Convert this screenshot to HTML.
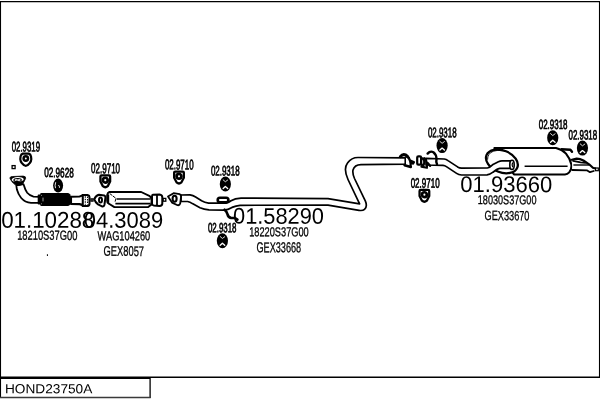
<!DOCTYPE html>
<html><head><meta charset="utf-8"><title>HOND23750A</title>
<style>
html,body{margin:0;padding:0;background:#fff;}
body{width:600px;height:400px;overflow:hidden;position:relative;font-family:"Liberation Sans", sans-serif;}
svg{position:absolute;left:0;top:0;display:block;will-change:transform;filter:grayscale(1);}
svg text{font-family:"Liberation Sans", sans-serif;fill:#000;}
</style></head><body>
<svg width="600" height="400" viewBox="0 0 600 400">
<rect x="0" y="0" width="600" height="400" fill="#fff"/>
<!-- frame -->
<path d="M0,1.6 L600,1.6" stroke="#000" fill="none" stroke-width="1.3"/>
<path d="M0,377.15 L600,377.15" stroke="#000" fill="none" stroke-width="1.5"/>
<path d="M0.5,1 L0.5,398 M599.5,1 L599.5,378" stroke="#000" fill="none" stroke-width="1.1"/>
<path d="M0,378.3 L150.1,378.3 L150.1,398" stroke="#000" fill="none" stroke-width="1.3"/>
<path d="M0,397.5 L150.7,397.5" stroke="#3a3a3a" fill="none" stroke-width="1.7"/>
<path d="M16.3,185.4 L16.9,189.6 Q18.2,194.4 21.2,198 Q25,202.4 31,202.8 L40,202.8 L40,196.9 L33.5,196.7 Q29.5,195.6 27.2,192.8 Q25.2,190 24.3,186.5 L23.5,184.2 Z" fill="#fff" stroke="#000" stroke-width="1.8" stroke-linejoin="round"/>
<g transform="translate(0.2,0.8)">
<path d="M9.6,177.2 Q10,175.5 12.5,175.7 L23,175.3 Q25.9,175.6 25.4,177.6 Q24,181.5 21.4,184 Q18,185.6 14.8,183.8 Q11,181 9.6,177.2 Z" fill="#000" stroke="#000" stroke-width="0.8" stroke-linejoin="round"/>
<ellipse cx="0" cy="0" rx="6" ry="2.5" transform="translate(17.5,178.7) rotate(-2)" fill="#fff"/>
<ellipse cx="0" cy="0" rx="3.7" ry="1.5" transform="translate(17.4,179.2) rotate(-2)" fill="#fff" stroke="#000" stroke-width="1.1"/>
<path d="M16.2,179.6 L18.2,178.9" stroke="#000" stroke-width="0.8" fill="none"/>
</g>
<path d="M41.4,192.9 L68,192.9 Q69.4,193 70,194.2 L70.8,196 L70.8,203 L70,204.8 Q69.4,205.9 68,206 L41.4,206 Q40.2,206 40.2,204.8 L40.2,194.1 Q40.2,192.9 41.4,192.9 Z" fill="#000"/>
<rect x="37.7" y="194.6" width="3.5" height="9.9" rx="0.8" fill="#000"/>
<path d="M43,197.6 L43,201.4 M41.2,195.4 L42,195.4 M41.2,203.8 L42,203.8" stroke="#e8e8e8" stroke-width="0.7" fill="none"/>
<path d="M71,196.7 L79.5,196.5 Q81.5,196.1 83,195 L83,205.5 Q81.5,204.5 79.5,204.1 L71,203.9 Z" fill="#fff" stroke="#000" stroke-width="2.1" stroke-linejoin="round"/>
<path d="M82.8,194.9 L87.6,194.9 Q89.5,195.3 89.5,197.1 L89.5,203.8 Q89.5,205.8 87.6,206 L82.8,206 Z" fill="#fff" stroke="#000" stroke-width="2"/>
<path d="M85.3,196.2 L85.3,204.8 M87.6,196.6 L87.6,204.4" stroke="#000" stroke-width="1.1" stroke-dasharray="1.5 1" fill="none"/>
<rect x="91" y="198.9" width="2" height="2.2" fill="#fff" stroke="#000" stroke-width="1.3"/>
<path d="M94.2,199.2 Q96,195.4 99,194.8 L104.2,195.4 Q105.6,196 105.4,198 L104.4,205 Q103.8,206.8 102,206.4 L98,204.4 Q95.4,202.6 94.2,199.2 Z" fill="#fff" stroke="#000" stroke-width="2" stroke-linejoin="round"/>
<ellipse cx="100.5" cy="200.1" rx="1.5" ry="2.5" fill="#fff" stroke="#000" stroke-width="2"/>
<path d="M109.4,192 L141.2,192 L149.8,196.2 Q151.6,198 151.6,200.5 Q151.6,203.4 151.2,204.8 L148.2,207.1 L114.4,207.1 L109,203.8 Q107.2,203 107.2,201 L107.2,195 Q107.4,192.8 109.4,192 Z" fill="#fff" stroke="#000" stroke-width="1.9" stroke-linejoin="round"/>
<path d="M109.8,193.6 L116,198.4 L115,202" fill="none" stroke="#000" stroke-width="1" stroke-dasharray="3.2 0.8"/>
<path d="M108,194.4 L108,203.4" fill="none" stroke="#000" stroke-width="2.4"/>
<path d="M116.6,199 L150.4,199" fill="none" stroke="#000" stroke-width="1.5"/>
<path d="M115.4,203.7 L150.6,203.7" fill="none" stroke="#000" stroke-width="1.7"/>
<path d="M153,194.8 L159.5,194.6 Q162.3,195 162.3,197.2 L162.3,203.4 Q162.3,205.8 159.5,205.9 L153.6,205.4 Q152,205 152,203.4 L152,196.4 Q152,195 153,194.8 Z" fill="#fff" stroke="#000" stroke-width="2"/>
<path d="M157,195 L157,205.6" stroke="#000" stroke-width="1.8" fill="none"/>
<rect x="163.2" y="198.4" width="2.6" height="2.8" fill="#fff" stroke="#000" stroke-width="1.3"/>
<path d="M181,195 L190,194.9 Q193,195.4 195.6,197 L201.6,200.8 Q204.6,202.6 208.6,203.1 L226,203.2 Q229,202.2 231,200.7 Q235,198.4 241,198.1 L328,198.6 L359.6,203.8 L348,179.5 C345.5,174 344.5,167 347.5,163 C350,159.5 353.5,157.5 358,157.5 L405.4,157.8 L405.4,164.2 L361,164.6 C357,164.7 354,166.5 353,170 C352.4,173 353.2,175.5 354.5,178.5 L365.4,201.2 C366.8,204.5 366.5,207.5 364.5,209.3 C363,210.6 361,210.7 359,210.3 L328,205.1 L240,205.3 Q236,205.6 232,207.4 Q228,209.8 224,210.2 L209,209.9 Q204,209.5 200,207.8 L192.4,203.6 Q190,202 187.6,201.5 L181,201.4 Z" fill="#fff" stroke="#000" stroke-width="1.7" stroke-linejoin="round"/>
<path d="M168,196.6 L173.6,193.2 L179.6,194.2 Q181.2,194.8 181,197 L180.2,203.6 Q179.6,205.6 177.6,205.2 L172,202.6 Z" fill="#fff" stroke="#000" stroke-width="1.8" stroke-linejoin="round"/>
<ellipse cx="174.6" cy="198.7" rx="2" ry="3" fill="#fff" stroke="#000" stroke-width="2.1"/>
<rect x="217.7" y="197.7" width="10.7" height="4.6" rx="2.2" ry="2.2" fill="#fff" stroke="#000" stroke-width="2.6"/>
<path d="M224.6,209.8 Q226.8,211.5 227.6,214.5 Q228.2,217.4 231,217.8 L235,218 L237.4,219.6" fill="none" stroke="#000" stroke-width="2.7" stroke-linecap="round" stroke-linejoin="round"/>
<path d="M400.4,156.6 Q402.6,153.8 405.6,155 Q407.6,156 408.6,158.4" fill="none" stroke="#000" stroke-width="3.1" stroke-linecap="round"/>
<path d="M405.4,158 L409,158 Q410.6,161 410.2,165.4 L405.4,164.4 Z" fill="#fff"/>
<path d="M407.8,157.2 Q411.2,160.6 410.6,166" fill="none" stroke="#000" stroke-width="2.4" stroke-linecap="round"/>
<path d="M404.6,165.2 L410.8,167" fill="none" stroke="#000" stroke-width="2.6" stroke-linecap="round"/>
<path d="M411,160.6 L414.2,162 L413.2,163.8 L411,163.2 Z" fill="#000" stroke="#000" stroke-width="1.8" stroke-linejoin="round"/>
<path d="M405.4,158 L405.4,164.4" fill="none" stroke="#000" stroke-width="1.2"/>
<path d="M494.4,148 L556,148 Q562,149.4 566,153.6 Q570.4,159 571.4,164.6 Q571.8,169.6 569.2,172.4 Q567.4,174.4 565,174.5 L514,174.4 Z" fill="#fff" stroke="#000" stroke-width="2.1" stroke-linejoin="round"/>
<ellipse cx="0" cy="0" rx="16.6" ry="10.9" transform="translate(501.9,161.4) rotate(22)" fill="#fff" stroke="#000" stroke-width="2.3"/>
<path d="M487.6,159.6 Q487.4,153.6 493.4,151.2 Q498,149.8 502,150.6" fill="none" stroke="#000" stroke-width="0.9"/>
<path d="M426,158.4 L444.3,159 Q446.2,159.3 448,160.6 L457.6,166.9 Q459.4,168 461.5,168.1 L487.4,168 C490,167.7 491.4,166 493,164.4 L498.4,161.7 C499.6,161.1 500.8,160.8 502,160.8 L510.5,160.8 L510.5,168.3 L499.8,168.3 C498.6,168.5 497.6,168.9 496.6,169.5 L493,172.2 C491,173.8 489.5,174.7 487,174.9 L461.5,175 Q458.6,174.8 456.6,173.4 L446.4,166.6 Q444.8,165.5 443,165.4 L426,165 Z" fill="#fff" stroke="#000" stroke-width="1.7" stroke-linejoin="round"/>
<ellipse cx="512" cy="164.9" rx="2.2" ry="4.6" fill="#fff" stroke="#000" stroke-width="1.6"/>
<path d="M512.6,162.6 Q511.6,165 512.8,167.2" fill="none" stroke="#000" stroke-width="1.2"/>
<rect x="417.2" y="156.3" width="3.9" height="8.4" rx="1.2" fill="#fff" stroke="#000" stroke-width="2.2"/>
<ellipse cx="422.7" cy="161.9" rx="1.5" ry="3.5" fill="#fff" stroke="#000" stroke-width="2.1"/>
<path d="M424.6,158.2 Q427.4,160.6 427,166.8 M421.4,166.6 L427,167.8 M428,163.2 L430.2,166" fill="none" stroke="#000" stroke-width="2.1" stroke-linecap="round"/>
<path d="M427.6,153.6 Q430.2,150.6 433.4,152.2 Q436.4,154.4 436.5,158.8 L436.3,162 L437,164.2" fill="none" stroke="#000" stroke-width="2.4" stroke-linecap="round" stroke-linejoin="round"/>
<path d="M524.6,166.3 L567.6,166.3" stroke="#000" stroke-width="1.5" fill="none"/>
<path d="M561.5,149.2 L570.4,149.7 L572,151.8" stroke="#000" stroke-width="2.4" stroke-linecap="round" stroke-linejoin="round" fill="none"/>
<path d="M572,159.6 L576.7,158.6 Q580,158.8 583.4,160.5 L589.1,164.3 L592.9,167.7 L595.4,168.5 L595.4,170.8 L593.8,171 L590,172.3 L587.2,170.5 L572.4,170 Z" fill="#fff" stroke="none"/>
<path d="M571.8,159.7 L576.7,158.6 Q580,158.8 583.4,160.5 L589.1,164.3 L592.9,167.7 L595.4,168.5" stroke="#000" stroke-width="2.2" stroke-linecap="round" stroke-linejoin="round" fill="none"/>
<path d="M573,160.8 L580.5,162.4 L585.3,162.9" stroke="#000" stroke-width="1.7" stroke-linecap="round" fill="none"/>
<path d="M573.4,165 L589.4,165" stroke="#000" stroke-width="1.4" fill="none"/>
<path d="M572.4,170 L587.2,170.4 L590,172.2 L593.8,171" stroke="#000" stroke-width="1.8" stroke-linecap="round" stroke-linejoin="round" fill="none"/>
<rect x="595.6" y="168" width="2.7" height="2.7" fill="#fff" stroke="#000" stroke-width="1.2"/>
<g transform="translate(25.8,159.6)">
<path d="M-3,-6 L3,-6 Q4.8,-5.4 5.2,-3.2 L5.5,-0.4 Q5.4,1.6 4,3.4 L1.8,5.6 Q0,6.8 -1.8,5.6 L-4,3.4 Q-5.4,1.6 -5.5,-0.4 L-5.2,-3.2 Q-4.8,-5.4 -3,-6 Z" fill="#fff" stroke="#000" stroke-width="2.2" stroke-linejoin="round"/>
<circle cx="0" cy="-1.1" r="2.2" fill="#fff" stroke="#000" stroke-width="2.5"/>
</g>
<rect x="12.1" y="165.6" width="3" height="3" fill="#fff" stroke="#000" stroke-width="1.3"/>
<g transform="translate(58.1,185.6)">
<ellipse cx="0" cy="0" rx="5" ry="7" fill="#000"/>
<path d="M-2.4,-3.4 Q-3.5,0 -2.6,2.6" fill="none" stroke="#fff" stroke-width="0.9"/>
<path d="M0.2,-0.6 Q1.6,0.2 1.4,2.2" fill="none" stroke="#fff" stroke-width="0.9"/>
</g>
<g transform="translate(105.3,181.1) scale(1.05,1.04)">
<path d="M-3.6,-5.5 L3.6,-5.5 Q4.6,-5.5 4.6,-4.5 L4.6,0.4 L2.3,4.9 Q0,6.9 -2.3,4.9 L-4.6,0.4 L-4.6,-4.5 Q-4.6,-5.5 -3.6,-5.5 Z" fill="#fff" stroke="#000" stroke-width="2.2"/>
<circle cx="0" cy="-0.9" r="2.3" fill="#fff" stroke="#000" stroke-width="2.6"/>
</g>
<g transform="translate(179.0,177.3) scale(1.05,1.04)">
<path d="M-3.6,-5.5 L3.6,-5.5 Q4.6,-5.5 4.6,-4.5 L4.6,0.4 L2.3,4.9 Q0,6.9 -2.3,4.9 L-4.6,0.4 L-4.6,-4.5 Q-4.6,-5.5 -3.6,-5.5 Z" fill="#fff" stroke="#000" stroke-width="2.2"/>
<circle cx="0" cy="-0.9" r="2.3" fill="#fff" stroke="#000" stroke-width="2.6"/>
</g>
<g transform="translate(225.35,184.05)">
<ellipse cx="0" cy="0" rx="5.6" ry="7.5" fill="#000"/>
<path d="M-2.2,-4.2 L0,-2.3 L2.3,-4.0" fill="none" stroke="#fff" stroke-width="0.85" stroke-linecap="round" stroke-linejoin="round"/>
<path d="M-2.2,4.5 L0,2.5 L2.3,4.5" fill="none" stroke="#fff" stroke-width="1.35" stroke-linecap="round" stroke-linejoin="round"/>
</g>
<g transform="translate(222.4,240.75)">
<ellipse cx="0" cy="0" rx="5.6" ry="7.5" fill="#000"/>
<path d="M-2.2,-4.2 L0,-2.3 L2.3,-4.0" fill="none" stroke="#fff" stroke-width="0.85" stroke-linecap="round" stroke-linejoin="round"/>
<path d="M-2.2,4.5 L0,2.5 L2.3,4.5" fill="none" stroke="#fff" stroke-width="1.35" stroke-linecap="round" stroke-linejoin="round"/>
</g>
<g transform="translate(424.4,195.6) scale(1.05,1.04)">
<path d="M-3.6,-5.5 L3.6,-5.5 Q4.6,-5.5 4.6,-4.5 L4.6,0.4 L2.3,4.9 Q0,6.9 -2.3,4.9 L-4.6,0.4 L-4.6,-4.5 Q-4.6,-5.5 -3.6,-5.5 Z" fill="#fff" stroke="#000" stroke-width="2.2"/>
<circle cx="0" cy="-0.9" r="2.3" fill="#fff" stroke="#000" stroke-width="2.6"/>
</g>
<g transform="translate(442.1,145.6)">
<ellipse cx="0" cy="0" rx="5.6" ry="7.5" fill="#000"/>
<path d="M-2.2,-4.2 L0,-2.3 L2.3,-4.0" fill="none" stroke="#fff" stroke-width="0.85" stroke-linecap="round" stroke-linejoin="round"/>
<path d="M-2.2,4.5 L0,2.5 L2.3,4.5" fill="none" stroke="#fff" stroke-width="1.35" stroke-linecap="round" stroke-linejoin="round"/>
</g>
<g transform="translate(552.75,137.8)">
<ellipse cx="0" cy="0" rx="5.6" ry="7.5" fill="#000"/>
<path d="M-2.2,-4.2 L0,-2.3 L2.3,-4.0" fill="none" stroke="#fff" stroke-width="0.85" stroke-linecap="round" stroke-linejoin="round"/>
<path d="M-2.2,4.5 L0,2.5 L2.3,4.5" fill="none" stroke="#fff" stroke-width="1.35" stroke-linecap="round" stroke-linejoin="round"/>
</g>
<g transform="translate(582.45,148.1)">
<ellipse cx="0" cy="0" rx="5.6" ry="7.5" fill="#000"/>
<path d="M-2.2,-4.2 L0,-2.3 L2.3,-4.0" fill="none" stroke="#fff" stroke-width="0.85" stroke-linecap="round" stroke-linejoin="round"/>
<path d="M-2.2,4.5 L0,2.5 L2.3,4.5" fill="none" stroke="#fff" stroke-width="1.35" stroke-linecap="round" stroke-linejoin="round"/>
</g>
<rect x="46.9" y="254.3" width="1.1" height="1.6" fill="#000"/>
<g>
<text x="11.67" y="151.40" font-size="14.00" textLength="28.37" lengthAdjust="spacingAndGlyphs" transform="rotate(0.1 11.67 151.40)" stroke="#000" stroke-width="0.7">02.9319</text>
<text x="44.15" y="177.12" font-size="13.49" textLength="29.64" lengthAdjust="spacingAndGlyphs" transform="rotate(0.1 44.15 177.12)" stroke="#000" stroke-width="0.7">02.9628</text>
<text x="91.12" y="173.13" font-size="14.34" textLength="28.92" lengthAdjust="spacingAndGlyphs" transform="rotate(0.1 91.12 173.13)" stroke="#000" stroke-width="0.7">02.9710</text>
<text x="164.89" y="169.36" font-size="14.08" textLength="28.66" lengthAdjust="spacingAndGlyphs" transform="rotate(0.1 164.89 169.36)" stroke="#000" stroke-width="0.7">02.9710</text>
<text x="210.88" y="175.55" font-size="13.94" textLength="28.69" lengthAdjust="spacingAndGlyphs" transform="rotate(0.1 210.88 175.55)" stroke="#000" stroke-width="0.7">02.9318</text>
<text x="207.98" y="232.21" font-size="13.44" textLength="28.50" lengthAdjust="spacingAndGlyphs" transform="rotate(0.1 207.98 232.21)" stroke="#000" stroke-width="0.7">02.9318</text>
<text x="410.63" y="187.67" font-size="13.77" textLength="28.99" lengthAdjust="spacingAndGlyphs" transform="rotate(0.1 410.63 187.67)" stroke="#000" stroke-width="0.7">02.9710</text>
<text x="427.94" y="137.13" font-size="13.96" textLength="28.63" lengthAdjust="spacingAndGlyphs" transform="rotate(0.1 427.94 137.13)" stroke="#000" stroke-width="0.7">02.9318</text>
<text x="538.74" y="128.93" font-size="13.39" textLength="28.81" lengthAdjust="spacingAndGlyphs" transform="rotate(0.1 538.74 128.93)" stroke="#000" stroke-width="0.7">02.9318</text>
<text x="568.46" y="139.42" font-size="13.63" textLength="28.76" lengthAdjust="spacingAndGlyphs" transform="rotate(0.1 568.46 139.42)" stroke="#000" stroke-width="0.7">02.9318</text>
<text x="1.15" y="227.68" font-size="22.80" textLength="93.14" lengthAdjust="spacingAndGlyphs" transform="rotate(0.1 1.15 227.68)">01.10288</text>
<text x="83.82" y="227.73" font-size="22.53" textLength="79.34" lengthAdjust="spacingAndGlyphs" transform="rotate(0.1 83.82 227.73)">04.3089</text>
<text x="233.01" y="223.61" font-size="22.54" textLength="90.97" lengthAdjust="spacingAndGlyphs" transform="rotate(0.1 233.01 223.61)">01.58290</text>
<text x="460.33" y="192.06" font-size="22.63" textLength="91.83" lengthAdjust="spacingAndGlyphs" transform="rotate(0.1 460.33 192.06)">01.93660</text>
<text x="17.13" y="239.80" font-size="13.14" textLength="60.31" lengthAdjust="spacingAndGlyphs" transform="rotate(0.1 17.13 239.80)" stroke="#000" stroke-width="0.3">18210S37G00</text>
<text x="97.60" y="240.18" font-size="12.93" textLength="52.62" lengthAdjust="spacingAndGlyphs" transform="rotate(0.1 97.60 240.18)" stroke="#000" stroke-width="0.3">WAG104260</text>
<text x="103.61" y="255.83" font-size="13.92" textLength="40.40" lengthAdjust="spacingAndGlyphs" transform="rotate(0.1 103.61 255.83)" stroke="#000" stroke-width="0.3">GEX8057</text>
<text x="249.17" y="236.28" font-size="12.95" textLength="59.60" lengthAdjust="spacingAndGlyphs" transform="rotate(0.1 249.17 236.28)" stroke="#000" stroke-width="0.3">18220S37G00</text>
<text x="256.43" y="252.17" font-size="14.33" textLength="44.74" lengthAdjust="spacingAndGlyphs" transform="rotate(0.1 256.43 252.17)" stroke="#000" stroke-width="0.3">GEX33668</text>
<text x="477.81" y="204.14" font-size="12.82" textLength="58.70" lengthAdjust="spacingAndGlyphs" transform="rotate(0.1 477.81 204.14)" stroke="#000" stroke-width="0.3">18030S37G00</text>
<text x="484.50" y="220.11" font-size="13.33" textLength="44.97" lengthAdjust="spacingAndGlyphs" transform="rotate(0.1 484.50 220.11)" stroke="#000" stroke-width="0.3">GEX33670</text>
<text x="4.98" y="393.21" font-size="13.16" textLength="87.34" lengthAdjust="spacingAndGlyphs" transform="rotate(0.1 4.98 393.21)">HOND23750A</text>
</g>
</svg>
</body></html>
